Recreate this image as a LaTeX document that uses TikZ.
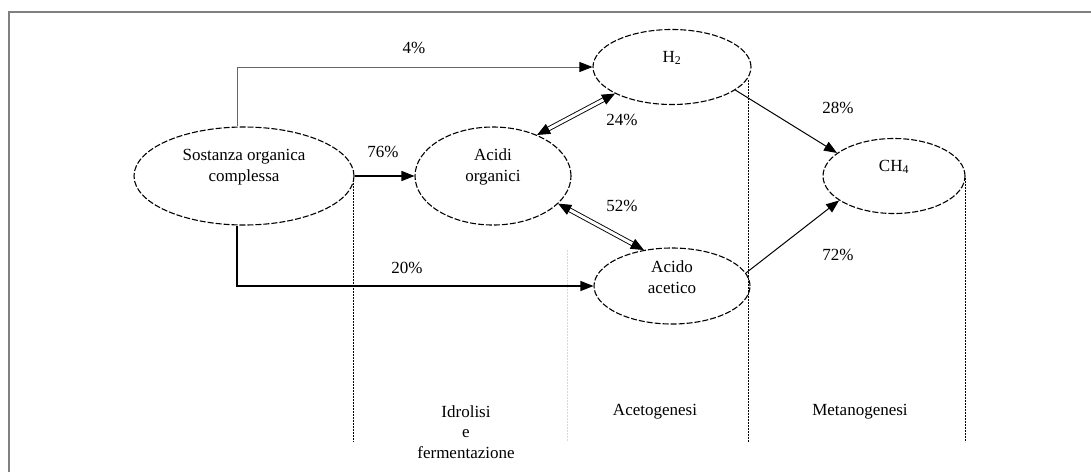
\documentclass[tikz,border=0pt]{standalone}
\usepackage{fontspec}
\setmainfont{Liberation Serif}
\usetikzlibrary{shapes.geometric,arrows.meta,calc}
\begin{document}
\begin{tikzpicture}[x=1pt,y=-1pt,
  proc/.style={ellipse, draw, line width=1.1pt, dash pattern=on 6pt off 2pt, inner sep=0pt},
  txt/.style={font=\fontsize{17}{20.5}\selectfont, align=center, inner sep=0pt},
  pct/.style={font=\fontsize{17}{20}\selectfont, inner sep=0pt},
  tip/.style={-{Triangle[length=13pt,width=10pt]}},
  arr/.style={line width=1.3pt, tip},
  thinarr/.style={line width=0.8pt, draw=black!60, -{Triangle[length=13pt,width=10pt,color=black]}},
  dblline/.style={double, double distance=3pt, line width=0.9pt},
  dbltip/.style={line width=0.9pt, -{Triangle[length=13pt,width=11pt]}},
  sepline/.style={line width=1pt, dash pattern=on 2pt off 1pt},
  frame/.style={draw=gray, line width=1.5pt}]
\useasboundingbox (0,0) rectangle (1091,472);
\draw[frame] (9,472) -- (9,12) -- (1091,12);

% process ellipses
\node[proc, minimum width=220pt, minimum height=98pt] (S) at (244,176) {};
\node[proc, minimum width=156pt, minimum height=98pt] (A) at (493,176) {};
\node[proc, minimum width=158pt, minimum height=75pt] (H) at (672,67) {};
\node[proc, minimum width=142pt, minimum height=75pt] (M) at (894,176) {};
\node[proc, minimum width=156pt, minimum height=76pt] (C) at (672,286) {};

% texts inside
\node[txt] (tS) at ([yshift=9pt]S.center) {Sostanza organica\\complessa};
\node[txt] (tA) at ([yshift=9pt]A.center) {Acidi\\organici};
\node[txt] (tH) at ([yshift=9pt]H.center) {H\textsubscript{2}};
\node[txt] (tM) at ([yshift=9pt]M.center) {CH\textsubscript{4}};
\node[txt] (tC) at ([yshift=9pt]C.center) {Acido\\acetico};

% separators
\coordinate (s1t) at (353,183); \coordinate (s1b) at (353,442);
\coordinate (s2t) at (567,250); \coordinate (s2b) at (567,442);
\coordinate (s3t) at (748,80);  \coordinate (s3b) at (748,442);
\coordinate (s4t) at (965,178); \coordinate (s4b) at (965,442);
\draw[sepline] (s1t) -- (s1b);
\draw[sepline, draw=gray!30] (s2t) -- (s2b);
\draw[sepline] (s3t) -- (s3b);
\draw[sepline] (s4t) -- (s4b);

% connectors
\draw[thinarr] ([xshift=-7pt]S.north) |- (H.west);
\draw[arr] (S.east) -- (A.west);
\draw[arr, line width=1.1pt] ([xshift=-7pt]S.south) |- (C.west);

% double arrows (Acidi <-> H2, Acidi <-> Acido)
\draw[dblline] ($(A.43)!12pt!(H.205)$) -- ($(H.205)!12pt!(A.43)$);
\draw[dbltip] ($(A.43)!13pt!(H.205)$) -- (A.43);
\draw[dbltip] ($(H.205)!13pt!(A.43)$) -- (H.205);
\draw[dblline] ($(A.-23)!12pt!(C.128)$) -- ($(C.128)!12pt!(A.-23)$);
\draw[dbltip] ($(A.-23)!13pt!(C.128)$) -- (A.-23);
\draw[dbltip] ($(C.128)!13pt!(A.-23)$) -- (C.128);

\draw[line width=1pt, tip] (H.-20) -- (M.158);
\draw[line width=1pt, tip] (C.10) -- (M.204);

% percentages
\node[pct] (p4) at (414,48) {4\%};
\node[pct] (p76) at (383,152) {76\%};
\node[pct] (p20) at (407,268) {20\%};
\node[pct] (p24) at (622,120) {24\%};
\node[pct] (p52) at (622,206) {52\%};
\node[pct] (p28) at (838,108) {28\%};
\node[pct] (p72) at (838,255) {72\%};

% phase labels
\node[txt] (l1) at (466,432) {Idrolisi\\e\\fermentazione};
\node[txt] (l2) at (655,412) {Acetogenesi};
\node[txt] (l3) at (860,412) {Metanogenesi};
\end{tikzpicture}
\end{document}
